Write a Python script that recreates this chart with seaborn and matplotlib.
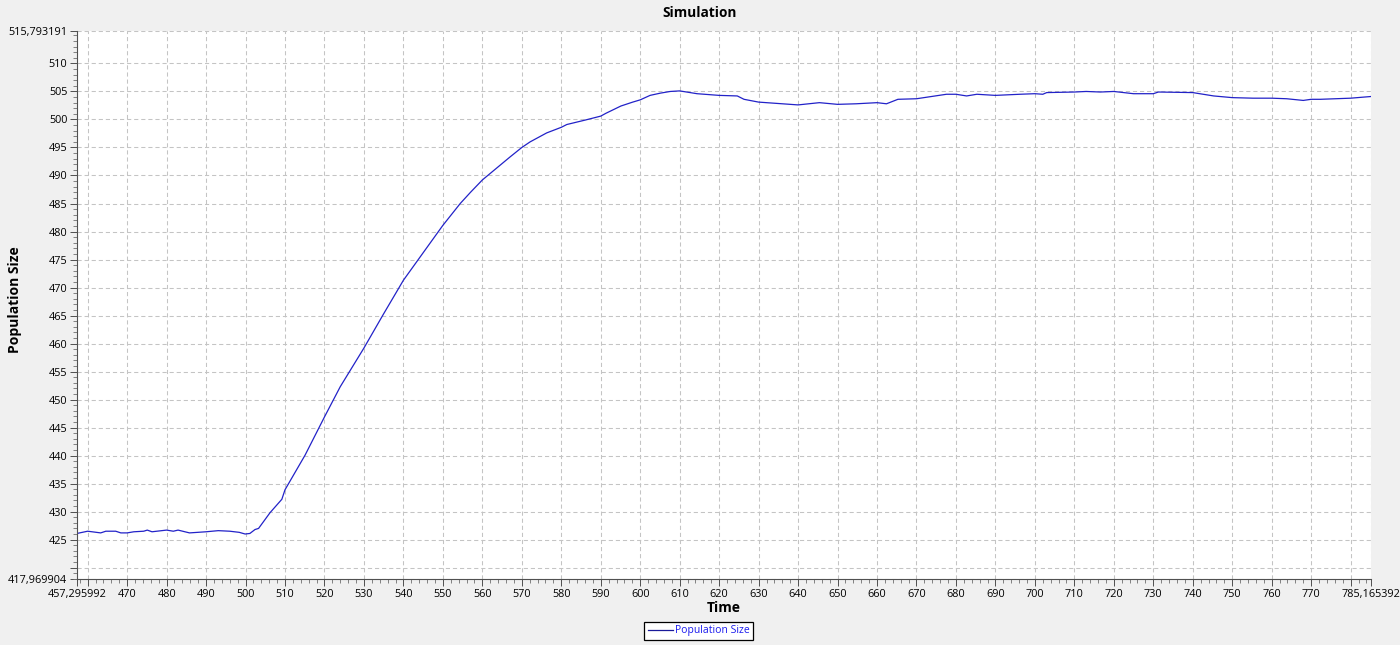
import matplotlib
matplotlib.use('Agg')
import matplotlib.pyplot as plt
import matplotlib.ticker as mticker
import numpy as np
import pandas as pd
import seaborn as sns

# population size over time
time = [457.296, 460, 463.3, 464.6, 467.1, 468.4, 470, 471.7, 474.2, 475.1,
        476.3, 480, 481.7, 482.9, 485.8, 490, 493.1, 496, 498.4, 499.9,
        501.1, 502.4, 503.3, 506.2, 509.2, 510, 515.1, 520, 524, 530,
        534.9, 540, 545.2, 550, 554.4, 557, 560, 567, 570, 572.1,
        576.3, 580, 581.4, 586.1, 590, 591.3, 595.1, 598.1, 600, 602.5,
        605.1, 607.6, 610, 614.4, 620, 624.6, 626.3, 630, 640, 645.4,
        650, 654.7, 660, 662.4, 665.3, 670, 677.6, 680, 682.7, 685.3,
        690, 696.2, 700, 702, 703, 710, 713, 716.6, 720, 725,
        730, 731.3, 740, 745.3, 750, 755.3, 760, 763.8, 768, 770,
        772.3, 780, 785.165]
population = [426.1, 426.5, 426.2, 426.5, 426.5, 426.2, 426.2, 426.4, 426.5, 426.7,
              426.4, 426.7, 426.5, 426.7, 426.2, 426.4, 426.6, 426.5, 426.3, 426.0,
              426.1, 426.8, 427.0, 429.8, 432.2, 433.9, 440.1, 446.9, 452.3, 459.2,
              465.2, 471.3, 476.4, 481.1, 485.0, 487.0, 489.2, 493.3, 495.0, 496.0,
              497.6, 498.6, 499.1, 499.9, 500.6, 501.1, 502.4, 503.1, 503.5, 504.3,
              504.7, 505.0, 505.1, 504.6, 504.3, 504.2, 503.6, 503.1, 502.6, 503.0,
              502.7, 502.8, 503.0, 502.8, 503.6, 503.7, 504.5, 504.5, 504.2, 504.5,
              504.3, 504.5, 504.6, 504.5, 504.8, 504.9, 505.0, 504.9, 505.0, 504.6,
              504.6, 504.9, 504.8, 504.2, 503.9, 503.8, 503.8, 503.7, 503.4, 503.6,
              503.6, 503.8, 504.1]

x_min, x_max = 457.295992, 785.165392
y_min, y_max = 417.969904, 515.793191

df = pd.DataFrame({'Time': time, 'Population Size': population})

plt.rcParams['font.family'] = ['Open Sans', 'DejaVu Sans']

fig = plt.figure(figsize=(14, 6.45), dpi=100, facecolor='#f0f0f0')
ax = fig.add_axes([77 / 1400, 1 - 579 / 645, (1371 - 77) / 1400, (579 - 31) / 645])
ax.set_facecolor('white')

sns.lineplot(data=df, x='Time', y='Population Size', color='#2222c8',
             linewidth=0.9, ax=ax, label='Population Size', legend=False)

ax.set_xlim(x_min, x_max)
ax.set_ylim(y_min, y_max)


def fmt(v):
    return f'{v:.6f}'.replace('.', ',')


# x ticks: every 10, end values shown in full
xt = list(range(460, 781, 10))
xticks = [x_min] + xt + [x_max]
xlabels = [fmt(x_min)] + ['' if v in (460, 780) else str(v) for v in xt] + [fmt(x_max)]
ax.set_xticks(xticks)
ax.set_xticklabels(xlabels)

yt = list(range(420, 511, 5))
yticks = [y_min] + yt + [y_max]
ylabels = [fmt(y_min)] + ['' if v == 420 else str(v) for v in yt] + [fmt(y_max)]
ax.set_yticks(yticks)
ax.set_yticklabels(ylabels)

ax.xaxis.set_minor_locator(mticker.MultipleLocator(2))
ax.yaxis.set_minor_locator(mticker.MultipleLocator(1))

ax.grid(which='major', color='#c4c4c4', linewidth=0.75, linestyle=(0, (4, 2.8)))
ax.set_axisbelow(True)

for side in ('top', 'right'):
    ax.spines[side].set_visible(False)
for side in ('left', 'bottom'):
    ax.spines[side].set_color('#505050')
    ax.spines[side].set_linewidth(0.8)

ax.tick_params(which='major', length=5, width=0.7, color='#505050',
               labelsize=7.8, labelcolor='black', pad=2)
ax.tick_params(which='minor', length=3, width=0.6, color='#707070')

ax.set_xlabel('Time', fontsize=10, fontweight='bold')
ax.set_ylabel('Population Size', fontsize=10, fontweight='bold')
ax.xaxis.set_label_coords(0.5, -(608 - 579) / 548, transform=ax.transAxes)
ax.xaxis.label.set_va('center')
ax.yaxis.set_label_coords(-(77 - 15) / 1294, (579 - 300) / 548)
ax.yaxis.label.set_va('center')

fig.text(0.5, 1 - 13 / 645, 'Simulation', ha='center', va='center',
         fontsize=9.8, fontweight='bold')

handles, labels = ax.get_legend_handles_labels()
leg = fig.legend(handles, labels, loc='center', bbox_to_anchor=(0.499, 1 - 631 / 645),
                 frameon=True, fancybox=False, fontsize=7.5, handlelength=2.4,
                 handletextpad=0.2, borderpad=0.35, labelcolor='#1a1aee')
leg.get_frame().set_edgecolor('black')
leg.get_frame().set_linewidth(0.9)
leg.get_frame().set_facecolor('white')
leg.get_frame().set_alpha(1)
leg.get_lines()[0].set_color('#1a1a99')

fig.savefig('out.png', dpi=100, facecolor=fig.get_facecolor())
